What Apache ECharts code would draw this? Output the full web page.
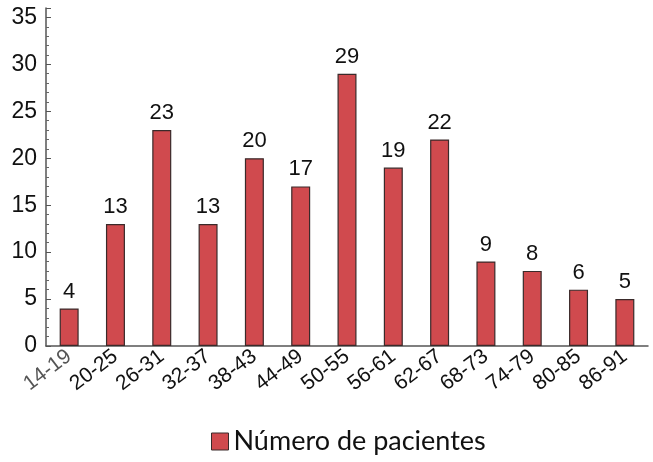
<!DOCTYPE html>
<html>
<head>
<meta charset="utf-8">
<script src="https://cdn.jsdelivr.net/npm/echarts@6/dist/echarts.min.js"></script>
<style>
  html, body { margin: 0; padding: 0; background: #fff; }
  #chart { width: 653px; height: 462px; }
</style>
</head>
<body>
<div id="chart"></div>
<script>
// Age groups and patient counts
const ageGroups = ['14-19', '20-25', '26-31', '32-37', '38-43', '44-49', '50-55', '56-61', '62-67', '68-73', '74-79', '80-85', '86-91'];
const patients = [4, 13, 23, 13, 20, 17, 29, 19, 22, 9, 8, 6, 5];
const seriesName = 'Número de pacientes';
// value axis: labelled every 5, minor ticks every 1, axis runs a little past 35
const yMin = 0;
const yMax = 36;
const yMajor = 5;
const yMinor = 1;

const axisColor = '#555';
const chart = echarts.init(document.getElementById('chart'));
chart.setOption({
  animation: false,
  backgroundColor: '#ffffff',
  grid: { left: 46, right: 5, top: 8, bottom: 116, containLabel: false },
  legend: {
    data: [seriesName],
    bottom: 2,
    left: 206,
    icon: 'rect',
    itemWidth: 17,
    itemHeight: 17,
    itemGap: 8,
    textStyle: { fontFamily: 'Lato', fontSize: 27, color: '#111' },
    itemStyle: { borderColor: '#3a2a2a', borderWidth: 1 }
  },
  xAxis: {
    type: 'category',
    data: ageGroups,
    axisLine: { show: true, lineStyle: { color: axisColor, width: 1.5 } },
    axisTick: { show: false },
    axisLabel: {
      rotate: 37,
      interval: 0,
      margin: 8,
      fontFamily: 'Liberation Sans',
      fontSize: 21,
      color: (v, i) => (i === 0 ? '#555' : '#111')
    }
  },
  yAxis: [{
    // minor ticks and the labels
    type: 'value',
    min: yMin,
    max: yMax,
    interval: yMinor,
    splitLine: { show: false },
    axisLine: { show: true, lineStyle: { color: axisColor, width: 1.5 } },
    axisTick: { show: true, inside: true, length: 3, lineStyle: { color: '#666' } },
    axisLabel: {
      fontFamily: 'Liberation Sans',
      fontSize: 23,
      color: '#111',
      margin: 9,
      formatter: v => (v % yMajor === 0 ? String(v) : '')
    }
  }, {
    // major ticks
    type: 'value',
    position: 'left',
    min: yMin,
    max: yMax,
    interval: yMajor,
    splitLine: { show: false },
    axisLine: { show: false },
    axisTick: { show: true, inside: true, length: 5, lineStyle: { color: axisColor } },
    axisLabel: { show: false }
  }],
  series: [{
    name: seriesName,
    type: 'bar',
    data: patients,
    barWidth: 19,
    itemStyle: { color: '#d04a4e', borderColor: '#3a2a2a', borderWidth: 1.2 },
    label: {
      show: true,
      position: 'top',
      distance: 6,
      fontFamily: 'Liberation Sans',
      fontSize: 22,
      color: '#111'
    }
  }]
});
</script>
</body>
</html>
